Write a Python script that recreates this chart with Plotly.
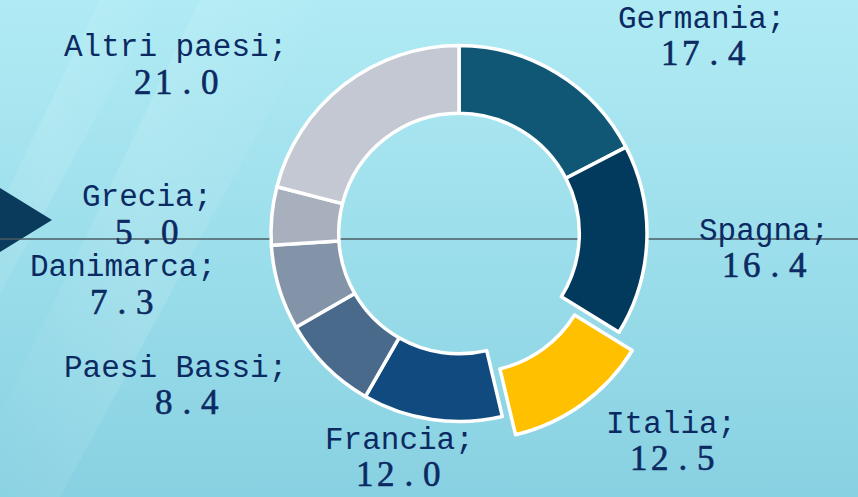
import base64
import plotly.graph_objects as go

# ---- data ----
countries = ["Germania", "Spagna", "Italia", "Francia", "Paesi Bassi",
             "Danimarca", "Grecia", "Altri paesi"]
shares = [17.4, 16.4, 12.5, 12.0, 8.4, 7.3, 5.0, 21.0]
highlight = "Italia"

# ---- style ----
W, H = 858, 497
slice_colors = ["#0f5775", "#023a5e", "#ffc000", "#104a7e", "#4a6a8c",
                "#8393a8", "#a8b0be", "#c3c8d3"]
text_color = "#0c2a62"

# label placement (pixel centres of name line and number line)
label_pos = {
    "Germania": ((701, 19), (705, 53)),
    "Spagna": ((764, 231), (766, 265)),
    "Italia": ((671, 424), (674, 458)),
    "Francia": ((399, 440), (400, 474)),
    "Paesi Bassi": ((175, 368), (188, 402)),
    "Danimarca": ((123, 267), (124, 302)),
    "Grecia": ((147, 198), (148, 233)),
    "Altri paesi": ((175, 48), (178, 83)),
}

def px(x, y):
    return x / W, (H - y) / H

# pie geometry
cx, cy, r, pull_frac = 459, 233.5, 188, 0.12
half = r * (1 + pull_frac)
dx0, dy0 = px(cx - half, cy + half)
dx1, dy1 = px(cx + half, cy - half)

pulls = [pull_frac if c == highlight else 0 for c in countries]

fig = go.Figure()
fig.add_trace(go.Pie(
    labels=countries, values=shares, sort=False, direction="clockwise",
    rotation=0, hole=0.64, pull=pulls, textinfo="none", hoverinfo="label+value",
    marker=dict(colors=slice_colors, line=dict(color="white", width=3.5)),
    domain=dict(x=[dx0, dx1], y=[dy0, dy1]), showlegend=False,
))

annotations = []
for c, v in zip(countries, shares):
    (nx, ny), (vx, vy) = label_pos[c]
    ax, ay = px(nx, ny)
    annotations.append(dict(
        x=ax, y=ay, xref="paper", yref="paper", xanchor="center", yanchor="middle",
        text=c + ";", showarrow=False, borderpad=0,
        font=dict(family="Liberation Mono", size=31, color=text_color)))
    bx, by = px(vx, vy)
    num = f"{v:.1f}".replace(".", "\u200a.\u200a")
    annotations.append(dict(
        x=bx, y=by, xref="paper", yref="paper", xanchor="center", yanchor="middle",
        text=(f'<span style="letter-spacing:3.5px;stroke:{text_color};'
              f'stroke-width:0.6px">{num}</span>'),
        showarrow=False, borderpad=0,
        font=dict(family="Liberation Serif", size=35, color=text_color)))

# background (gradient with soft diagonal light streaks)
svg = f"""<svg xmlns='http://www.w3.org/2000/svg' width='{W}' height='{H}' viewBox='0 0 {W} {H}' preserveAspectRatio='none'>
<defs>
<linearGradient id='g' x1='0' y1='0' x2='0' y2='1'>
<stop offset='0' stop-color='#b0ebf4'/><stop offset='1' stop-color='#88d1e2'/>
</linearGradient>
<linearGradient id='s' x1='0' y1='0' x2='1' y2='0'>
<stop offset='0' stop-color='#ffffff' stop-opacity='0'/>
<stop offset='0.5' stop-color='#ffffff' stop-opacity='0.12'/>
<stop offset='1' stop-color='#ffffff' stop-opacity='0'/>
</linearGradient>
</defs>
<rect width='{W}' height='{H}' fill='url(#g)'/>
<polygon points='200,0 330,0 60,497 -40,497' fill='url(#s)'/>
<polygon points='100,0 160,0 -20,330 -60,330' fill='url(#s)'/>
</svg>"""
bg_uri = "data:image/svg+xml;base64," + base64.b64encode(svg.encode()).decode()

lx0, ly = px(0, 239)
t1 = px(0, 188); t2 = px(52, 220); t3 = px(0, 252)
shapes = [
    dict(type="path", xref="paper", yref="paper", layer="below",
         path=f"M {t1[0]} {t1[1]} L {t2[0]} {t2[1]} L {t3[0]} {t3[1]} Z",
         fillcolor="#0a3a5c", line=dict(width=0)),
    dict(type="line", xref="paper", yref="paper", layer="below",
         x0=0, x1=1, y0=ly, y1=ly, line=dict(color="#4b5d64", width=1.5)),
]

fig.update_layout(
    width=W, height=H, margin=dict(l=0, r=0, t=0, b=0),
    paper_bgcolor="#9edde9", plot_bgcolor="rgba(0,0,0,0)",
    images=[dict(source=bg_uri, xref="paper", yref="paper", x=0, y=1,
                 sizex=1, sizey=1, xanchor="left", yanchor="top",
                 sizing="stretch", layer="below")],
    shapes=shapes, annotations=annotations,
)
fig.write_html("out.html", config={"displayModeBar": False},
               post_script="document.body.style.margin='0';document.body.style.overflow='hidden';")
